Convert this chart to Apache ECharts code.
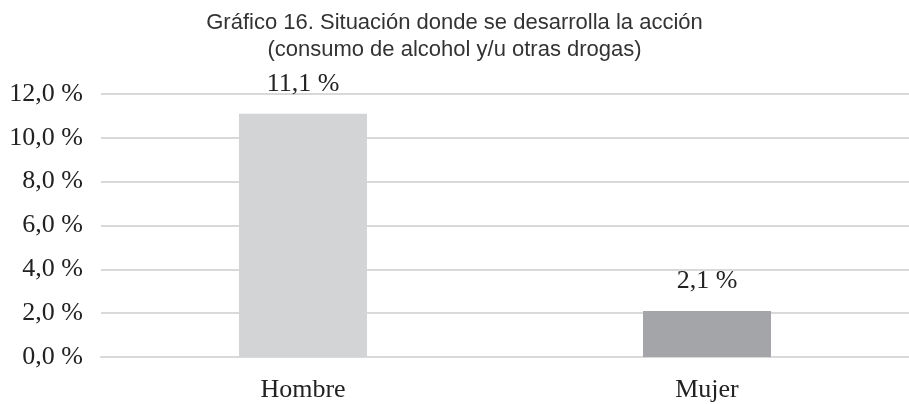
<!DOCTYPE html>
<html>
<head>
<meta charset="utf-8">
<script src="https://cdn.jsdelivr.net/npm/echarts@6/dist/echarts.min.js"></script>
<style>
  html, body { margin: 0; padding: 0; background: #fff; }
  #chart { width: 909px; height: 404px; }
</style>
</head>
<body>
<div id="chart"></div>
<script>
// datos del gráfico
const categories = ['Hombre', 'Mujer'];
const values = [11.1, 2.1];
const barColors = ['#d3d4d6', '#a4a5a8'];
const titleLines = [
  'Gráfico 16. Situación donde se desarrolla la acción',
  '(consumo de alcohol y/u otras drogas)'
];

const fmt = v => v.toFixed(1).replace('.', ',') + ' %';

const chart = echarts.init(document.getElementById('chart'));

const option = {
  animation: false,
  title: {
    text: titleLines.join('\n'),
    left: 'center',
    top: 4,
    textStyle: {
      fontFamily: 'Liberation Sans',
      fontWeight: 'normal',
      fontSize: 22,
      lineHeight: 27,
      color: '#333'
    }
  },
  grid: {
    left: 101,
    right: -4,
    top: 94,
    bottom: 47
  },
  xAxis: {
    type: 'category',
    data: categories,
    axisTick: { show: false },
    axisLine: { lineStyle: { color: '#d9d9d9', width: 2 } },
    axisLabel: {
      margin: 20,
      fontFamily: 'Liberation Serif',
      fontSize: 26,
      color: '#222'
    }
  },
  yAxis: {
    type: 'value',
    min: 0,
    max: 12,
    interval: 2,
    axisLine: { show: false },
    axisTick: { show: false },
    splitLine: { lineStyle: { color: '#d9d9d9', width: 2 } },
    axisLabel: {
      margin: 18,
      fontFamily: 'Liberation Serif',
      fontSize: 26,
      color: '#222',
      formatter: fmt
    }
  },
  series: [{
    type: 'bar',
    barWidth: 128,
    data: values.map((v, i) => ({ value: v, itemStyle: { color: barColors[i] } })),
    label: {
      show: true,
      position: 'top',
      distance: 17,
      fontFamily: 'Liberation Serif',
      fontSize: 26,
      color: '#222',
      formatter: p => fmt(p.value)
    }
  }]
};

chart.setOption(option);
</script>
</body>
</html>
